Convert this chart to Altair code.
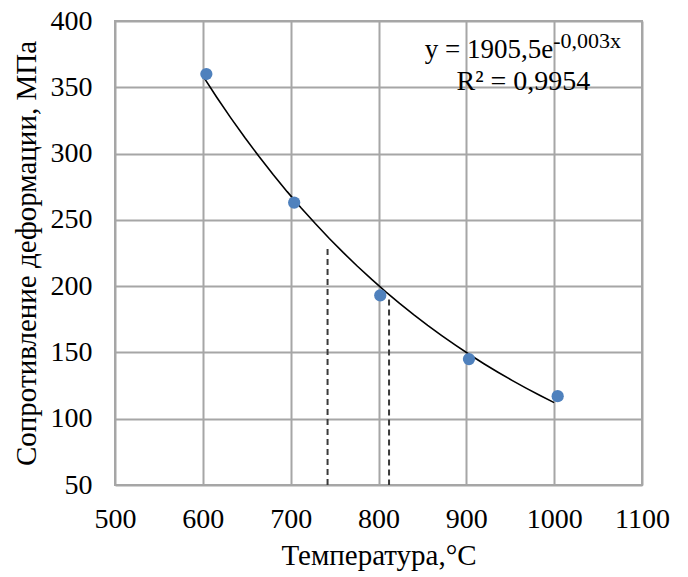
import altair as alt
import pandas as pd

# Data
temperature = [604, 704, 802, 903, 1004]
stress = [360, 263, 193, 145, 117]

dash_x = [742, 812]
dash_top = [228, 190]

x_ticks = [500, 600, 700, 800, 900, 1000, 1100]
y_ticks = [50, 100, 150, 200, 250, 300, 350, 400]

points = pd.DataFrame({"t": temperature, "s": stress})
dashes = pd.DataFrame({"t": dash_x, "top": dash_top, "bottom": [50, 50]})

FONT = "Liberation Serif"
GRID = "#a6a6a6"

xs = alt.Scale(domain=[500, 1100], nice=False)
ys = alt.Scale(domain=[50, 400], nice=False)

base = alt.Chart(points)

pts = base.mark_circle(size=150, color="#4f81bd", opacity=1).encode(
    x=alt.X("t:Q", scale=xs, axis=alt.Axis(
        values=x_ticks, format="d", title="Температура,°С", grid=True, tickSize=0,
        labelPadding=20, titlePadding=8, labelOverlap=False, labelFlush=False)),
    y=alt.Y("s:Q", scale=ys, axis=alt.Axis(
        values=y_ticks, format="d", title="Сопротивление деформации, МПа", grid=True,
        tickSize=0, labelPadding=23, titlePadding=9, labelOverlap=False,
        labelFlush=False)),
)

trend = base.transform_regression(
    "t", "s", method="exp", extent=[600, 1000]
).mark_line(color="black", strokeWidth=1.6).encode(
    x=alt.X("t:Q", scale=xs), y=alt.Y("s:Q", scale=ys)
)

dash = alt.Chart(dashes).mark_rule(
    color="#3a3a3a", strokeDash=[6, 4], strokeWidth=2
).encode(
    x=alt.X("t:Q", scale=xs), y=alt.Y("top:Q", scale=ys), y2="bottom:Q"
)

eq_main = alt.Chart(pd.DataFrame({"t": [999], "s": [372], "txt": ["y = 1905,5e"]})).mark_text(
    align="right", baseline="alphabetic", font=FONT, fontSize=27, color="black"
).encode(x=alt.X("t:Q", scale=xs), y=alt.Y("s:Q", scale=ys), text="txt:N")

eq_sup = alt.Chart(pd.DataFrame({"t": [999], "s": [380], "txt": ["-0,003x"]})).mark_text(
    align="left", baseline="alphabetic", font=FONT, fontSize=22, color="black"
).encode(x=alt.X("t:Q", scale=xs), y=alt.Y("s:Q", scale=ys), text="txt:N")

eq_r2 = alt.Chart(pd.DataFrame({"t": [965], "s": [348], "txt": ["R² = 0,9954"]})).mark_text(
    align="center", baseline="alphabetic", font=FONT, fontSize=28, color="black"
).encode(x=alt.X("t:Q", scale=xs), y=alt.Y("s:Q", scale=ys), text="txt:N")

chart = alt.layer(dash, trend, pts, eq_main, eq_sup, eq_r2).properties(
    width=527, height=464,
    autosize=alt.AutoSizeParams(type="none"),
    padding={"left": 107, "top": 13, "right": 30, "bottom": 90},
).configure_view(
    stroke=GRID, strokeWidth=2
).configure_axis(
    gridColor=GRID, gridWidth=2, domain=False,
    labelFont=FONT, labelFontSize=28, labelColor="black",
    titleFont=FONT, titleFontSize=29, titleColor="black", titleFontWeight="normal",
)

chart.save("out.html", embed_options={"renderer": "svg", "actions": False})
